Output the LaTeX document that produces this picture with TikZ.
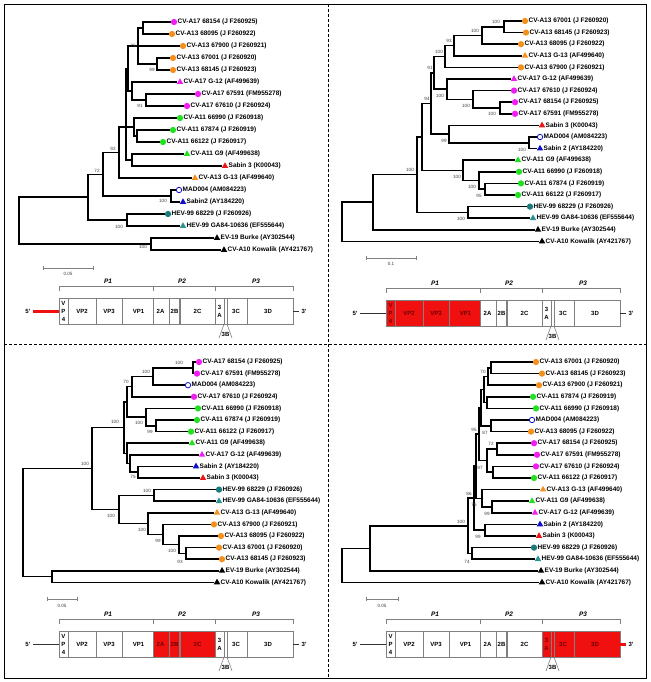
\documentclass[tikz,border=0pt]{standalone}
\usepackage{fontspec}
\setmainfont{Liberation Sans}
\usetikzlibrary{shapes.geometric}
\definecolor{cmag}{HTML}{F01EF0}
\definecolor{corg}{HTML}{F3901E}
\definecolor{cgrn}{HTML}{22E022}
\definecolor{cblu}{HTML}{1010C8}
\definecolor{cred}{HTML}{E81818}
\definecolor{cteal}{HTML}{1A7C7C}
\definecolor{cteal2}{HTML}{2A9494}
\definecolor{gline}{HTML}{808080}
\definecolor{mapred}{HTML}{F01010}
\definecolor{hltx}{HTML}{6E0000}
\newcommand\lf[5]{\node[#4] (#1m) at (#2,#3) {};\coordinate (#1) at ({#2-3.5},#3);\node[lab] (#1t) at ({#2+3.5},#3) {#5};}
\newcommand\kids[2]{\foreach \c in {#2}{\draw[brl] (#1) |- (\c);}}
\newcommand\bsl[4]{\node[bs] (#1) at (#2,#3) {#4};}
\newcommand\gmap[9]{%
\begin{scope}[shift={(#2,#3)}]
 \fill[#4] (59,298) rectangle (153,324);
 \fill[#6] (153,298) rectangle (215,324);
 \fill[#8] (215,298) rectangle (293,324);
 \draw[mapl] (59,298) rectangle (293,324);
 \foreach \x in {68,96,122,153,169,215,224,227,247} {\draw[mapl] (\x,298) -- (\x,324);}
 \draw[mapl,line width=1.3pt] (180,298) -- (180,324);
 \draw[mapl] (59,291) -- (59,286) -- (153,286) -- (153,291);
 \draw[mapl] (153,286) -- (215,286) -- (215,291);
 \draw[mapl] (215,286) -- (293,286) -- (293,291);
 \node[ptx] (#1p1) at (108,281) {P1};
 \node[ptx] (#1p2) at (182,281) {P2};
 \node[ptx] (#1p3) at (256,281) {P3};
 \node[mtx,text=#5,align=center] (#1c4) at (63.5,311) {V\\P\\4};
 \node[mtx,text=#5] (#1c2) at (82,311) {VP2};
 \node[mtx,text=#5] (#1c3) at (109,311) {VP3};
 \node[mtx,text=#5] (#1c1) at (138.5,311) {VP1};
 \node[mtx,text=#7] (#1ca) at (160.5,311) {2A};
 \node[mtx,text=#7] (#1cb) at (174.5,311) {2B};
 \node[mtx,text=#7] (#1cc) at (197.5,311) {2C};
 \node[mtx,text=#9,align=center] (#1da) at (219.5,311) {3\\A};
 \node[mtx,text=#9] (#1dc) at (236,311) {3C};
 \node[mtx,text=#9] (#1dd) at (268,311) {3D};
 \draw[mapl] (224,324) -- (219,338);
 \draw[mapl] (227,324) -- (232,338);
 \node[mtx] (#1db) at (225.5,334) {3B};
 \node[mtx] (#1f) at (28,311) {5'};
 \node[mtx] (#1t) at (304,311) {3'};
 \draw[u5] (33,311) -- (59,311);
 \draw[u3] (293,311) -- (299,311);
\end{scope}}
\begin{document}
\begin{tikzpicture}[x=1pt,y=-1pt,
  brl/.style={line width=1.5pt, line cap=rect, black},
  lab/.style={font=\fontsize{6.5}{7}\selectfont\bfseries, inner sep=0, anchor=west},
  bs/.style={font=\fontsize{4.6}{5}\selectfont, text=black!75, inner sep=0},
  mc/.style={circle, fill=#1, inner sep=0, minimum size=6.3pt},
  mt/.style={regular polygon, regular polygon sides=3, fill=#1, inner sep=0, minimum size=7.5pt},
  mo/.style={circle, draw=cblu, line width=0.8pt, inner sep=0, minimum size=5.4pt},
  mapl/.style={draw=gline, line width=0.6pt},
  mtx/.style={font=\fontsize{6}{8}\selectfont\bfseries, inner sep=0},
  ptx/.style={font=\fontsize{6.5}{8}\selectfont\bfseries\itshape, inner sep=0},
  sb/.style={draw=gline, line width=0.7pt},
  u5/.style={draw=black!80, line width=0.6pt},
  u3/.style={draw=black!80, line width=0.6pt}]
\fill[white] (0,0) rectangle (650,682);
\draw[line width=0.8pt] (4,4) rectangle (646,678);
\draw[line width=0.8pt, dash pattern=on 3pt off 2pt] (328,4) -- (328,678);
\draw[line width=0.8pt, dash pattern=on 3pt off 2pt] (4,344) -- (646,344);

% ---------------- tree 1 ----------------
\lf{a1}{174}{22}{mc=cmag}{CV-A17 68154 (J F260925)}
\lf{a2}{172}{34}{mc=corg}{CV-A13 68095 (J F260922)}
\lf{a3}{183}{46}{mc=corg}{CV-A13 67900 (J F260921)}
\lf{a4}{173}{58}{mc=corg}{CV-A13 67001 (J F260920)}
\lf{a5}{173}{70}{mc=corg}{CV-A13 68145 (J F260923)}
\lf{a6}{180}{82}{mt=cmag}{CV-A17 G-12 (AF499639)}
\lf{a7}{198}{94}{mc=cmag}{CV-A17 67591 (FM955278)}
\lf{a8}{187}{106}{mc=cmag}{CV-A17 67610 (J F260924)}
\lf{a9}{180}{118}{mc=cgrn}{CV-A11 66990 (J F260918)}
\lf{a10}{173}{130}{mc=cgrn}{CV-A11 67874 (J F260919)}
\lf{a11}{163}{142}{mc=cgrn}{CV-A11 66122 (J F260917)}
\lf{a12}{187}{154}{mt=cgrn}{CV-A11 G9 (AF499638)}
\lf{a13}{225}{166}{mt=cred}{Sabin 3 (K00043)}
\lf{a14}{195}{178}{mt=corg}{CV-A13 G-13 (AF499640)}
\lf{a15}{179}{190}{mo}{MAD004 (AM084223)}
\lf{a16}{183}{202}{mt=cblu}{Sabin2 (AY184220)}
\lf{a17}{168}{214}{mc=cteal}{HEV-99 68229 (J F260926)}
\lf{a18}{183}{226}{mt=cteal2}{HEV-99 GA84-10636 (EF555644)}
\lf{a19}{217}{238}{mt=black}{EV-19 Burke (AY302544)}
\lf{a20}{224}{250}{mt=black}{CV-A10 Kowalik (AY421767)}
\coordinate (aJ) at (143,28);
\coordinate (aK) at (157,64);
\coordinate (aI) at (138,46);
\coordinate (aS) at (146,100);
\coordinate (aM) at (132,91);
\coordinate (aN) at (128,68.5);
\coordinate (aT) at (137,136);
\coordinate (aQ) at (134,127);
\coordinate (aP) at (132,160);
\coordinate (aH) at (126,127);
\coordinate (aF) at (119,152.5);
\coordinate (aG) at (171,196);
\coordinate (aD) at (103,174.25);
\coordinate (aE) at (127,220);
\coordinate (aA) at (88,197.1);
\coordinate (aB) at (151,244);
\coordinate (aR) at (19,220.55);
\kids{aJ}{a1,a2}
\kids{aK}{a4,a5}
\kids{aI}{aJ,a3,aK}
\kids{aS}{a7,a8}
\kids{aM}{a6,aS}
\kids{aN}{aI,aM}
\kids{aT}{a10,a11}
\kids{aQ}{a9,aT}
\kids{aP}{a12,a13}
\kids{aH}{aN,aQ,aP}
\kids{aF}{aH,a14}
\kids{aG}{a15,a16}
\kids{aD}{aF,aG}
\kids{aE}{a17,a18}
\kids{aA}{aD,aE}
\kids{aB}{a19,a20}
\kids{aR}{aA,aB}
\bsl{ab1}{133}{46}{75}
\bsl{ab2}{152}{70}{99}
\bsl{ab3}{140}{106}{91}
\bsl{ab4}{113}{149}{92}
\bsl{ab5}{97}{171}{72}
\bsl{ab6}{163}{201}{100}
\bsl{ab7}{119}{227}{100}
\bsl{ab8}{143}{247}{100}
\coordinate (as1) at (43,268); \coordinate (as2) at (93,268);
\draw[sb] (as1) -- (as2) (43,266) -- (43,270) (93,266) -- (93,270);
\node[bs] (asl) at (68,274) {0.05};

% ---------------- tree 2 ----------------
\lf{b1}{525}{21}{mc=corg}{CV-A13 67001 (J F260920)}
\lf{b2}{526}{32.6}{mc=corg}{CV-A13 68145 (J F260923)}
\lf{b3}{521}{44.2}{mc=corg}{CV-A13 68095 (J F260922)}
\lf{b4}{525}{55.8}{mt=corg}{CV-A13 G-13 (AF499640)}
\lf{b5}{521}{67.4}{mc=corg}{CV-A13 67900 (J F260921)}
\lf{b6}{514}{79}{mt=cmag}{CV-A17 G-12 (AF499639)}
\lf{b7}{514}{90.6}{mc=cmag}{CV-A17 67610 (J F260924)}
\lf{b8}{515}{102.2}{mc=cmag}{CV-A17 68154 (J F260925)}
\lf{b9}{515}{113.8}{mc=cmag}{CV-A17 67591 (FM955278)}
\lf{b10}{542}{125.4}{mt=cred}{Sabin 3 (K00043)}
\lf{b11}{540}{137}{mo}{MAD004 (AM084223)}
\lf{b12}{540}{148.6}{mt=cblu}{Sabin 2 (AY184220)}
\lf{b13}{518}{160.2}{mt=cgrn}{CV-A11 G9 (AF499638)}
\lf{b14}{519}{171.8}{mc=cgrn}{CV-A11 66990 (J F260918)}
\lf{b15}{521}{183.4}{mc=cgrn}{CV-A11 67874 (J F260919)}
\lf{b16}{518}{195}{mc=cgrn}{CV-A11 66122 (J F260917)}
\lf{b17}{530}{206.6}{mc=cteal}{HEV-99 68229 (J F260926)}
\lf{b18}{533}{218.2}{mt=cteal2}{HEV-99 GA84-10636 (EF555644)}
\lf{b19}{538}{229.8}{mt=black}{EV-19 Burke (AY302544)}
\lf{b20}{542}{241.4}{mt=black}{CV-A10 Kowalik (AY421767)}
\coordinate (bn1) at (504,26.8);
\coordinate (bn2) at (482,35.5);
\coordinate (bn3) at (454,45.65);
\coordinate (bn4) at (445,56.5);
\coordinate (bn5) at (500,108);
\coordinate (bn6) at (473,99.3);
\coordinate (bn7) at (447,89.15);
\coordinate (bn8) at (434,72.8);
\coordinate (bn9) at (529,142.8);
\coordinate (bn10) at (449,134.1);
\coordinate (bn11) at (431,103.45);
\coordinate (bn14) at (485,189.2);
\coordinate (bn13) at (479,180.5);
\coordinate (bn12) at (463,170.35);
\coordinate (bD) at (422,136.9);
\coordinate (bn15) at (468,212.4);
\coordinate (bC) at (417,174.65);
\coordinate (bB) at (373,202.2);
\coordinate (bR) at (342,221.8);
\kids{bn1}{b1,b2}
\kids{bn2}{bn1,b3}
\kids{bn3}{bn2,b4}
\kids{bn4}{bn3,b5}
\kids{bn5}{b8,b9}
\kids{bn6}{b7,bn5}
\kids{bn7}{b6,bn6}
\kids{bn8}{bn4,bn7}
\kids{bn9}{b11,b12}
\kids{bn10}{b10,bn9}
\kids{bn11}{bn8,bn10}
\kids{bn14}{b15,b16}
\kids{bn13}{b14,bn14}
\kids{bn12}{b13,bn13}
\kids{bD}{bn11,bn12}
\kids{bn15}{b17,b18}
\kids{bC}{bD,bn15}
\kids{bB}{bC,b19}
\kids{bR}{bB,b20}
\bsl{bb1}{496}{22}{100}
\bsl{bb2}{475}{31}{100}
\bsl{bb3}{449}{41}{93}
\bsl{bb4}{439}{52}{100}
\bsl{bb5}{430}{68}{91}
\bsl{bb6}{427}{99}{94}
\bsl{bb7}{440}{96}{100}
\bsl{bb8}{466}{106}{100}
\bsl{bb9}{492}{114}{100}
\bsl{bb10}{444}{141}{99}
\bsl{bb11}{522}{150}{100}
\bsl{bb12}{410}{170}{100}
\bsl{bb13}{457}{177}{100}
\bsl{bb14}{472}{187}{100}
\bsl{bb15}{479}{196}{95}
\bsl{bb16}{461}{219}{100}
\coordinate (bs1) at (366,258); \coordinate (bs2) at (416,258);
\draw[sb] (bs1) -- (bs2) (366,256) -- (366,260) (416,256) -- (416,260);
\node[bs] (bsl) at (391,264) {0.1};

% ---------------- tree 3 ----------------
\lf{c1}{199}{362}{mc=cmag}{CV-A17 68154 (J F260925)}
\lf{c2}{197}{373.6}{mc=cmag}{CV-A17 67591 (FM955278)}
\lf{c3}{188}{385.2}{mo}{MAD004 (AM084223)}
\lf{c4}{194}{396.8}{mc=cmag}{CV-A17 67610 (J F260924)}
\lf{c5}{198}{408.4}{mc=cgrn}{CV-A11 66990 (J F260918)}
\lf{c6}{197}{420}{mc=cgrn}{CV-A11 67874 (J F260919)}
\lf{c7}{191}{431.6}{mc=cgrn}{CV-A11 66122 (J F260917)}
\lf{c8}{192}{443.2}{mt=cgrn}{CV-A11 G9 (AF499638)}
\lf{c9}{202}{454.8}{mt=cmag}{CV-A17 G-12 (AF499639)}
\lf{c10}{196}{466.4}{mt=cblu}{Sabin 2 (AY184220)}
\lf{c11}{203}{478}{mt=cred}{Sabin 3 (K00043)}
\lf{c12}{219}{489.6}{mc=cteal}{HEV-99 68229 (J F260926)}
\lf{c13}{219}{501.2}{mt=cteal2}{HEV-99 GA84-10636 (EF555644)}
\lf{c14}{217}{512.8}{mt=corg}{CV-A13 G-13 (AF499640)}
\lf{c15}{214}{524.4}{mc=corg}{CV-A13 67900 (J F260921)}
\lf{c16}{221}{536}{mc=corg}{CV-A13 68095 (J F260922)}
\lf{c17}{219}{547.6}{mc=corg}{CV-A13 67001 (J F260920)}
\lf{c18}{222}{559.2}{mc=corg}{CV-A13 68145 (J F260923)}
\lf{c19}{222}{570.8}{mt=black}{EV-19 Burke (AY302544)}
\lf{c20}{217}{582.4}{mt=black}{CV-A10 Kowalik (AY421767)}
\coordinate (cL) at (193,367.8);
\coordinate (cK) at (153,376.5);
\coordinate (cJ) at (132,386.65);
\coordinate (cN) at (156,425.8);
\coordinate (cM) at (146,417.1);
\coordinate (cO) at (127,401.9);
\coordinate (cRR) at (138,472.2);
\coordinate (cQ) at (130,463.5);
\coordinate (cP) at (127,453.35);
\coordinate (cC) at (124,427.6);
\coordinate (cHE) at (154,495.4);
\coordinate (cH) at (186,553.4);
\coordinate (cG) at (179,544.7);
\coordinate (cF) at (163,534.55);
\coordinate (cE) at (148,523.7);
\coordinate (cD) at (119,509.55);
\coordinate (cA) at (92,468.6);
\coordinate (cB) at (52,576.6);
\coordinate (cR) at (23,522.6);
\kids{cL}{c1,c2}
\kids{cK}{cL,c3}
\kids{cJ}{cK,c4}
\kids{cN}{c6,c7}
\kids{cM}{c5,cN}
\kids{cO}{cJ,cM}
\kids{cRR}{c10,c11}
\kids{cQ}{c9,cRR}
\kids{cP}{c8,cQ}
\kids{cC}{cO,cP}
\kids{cHE}{c12,c13}
\kids{cH}{c17,c18}
\kids{cG}{c16,cH}
\kids{cF}{c15,cG}
\kids{cE}{c14,cF}
\kids{cD}{cHE,cE}
\kids{cA}{cC,cD}
\kids{cB}{c19,c20}
\kids{cR}{cA,cB}
\bsl{cb1}{179}{363}{100}
\bsl{cb2}{146}{372}{100}
\bsl{cb3}{126}{382}{70}
\bsl{cb4}{115}{422}{100}
\bsl{cb5}{139}{423}{100}
\bsl{cb6}{150}{432}{99}
\bsl{cb7}{85}{464}{100}
\bsl{cb8}{133}{477}{75}
\bsl{cb9}{147}{491}{100}
\bsl{cb10}{111}{516}{100}
\bsl{cb11}{142}{530}{100}
\bsl{cb12}{158}{541}{99}
\bsl{cb13}{172}{551}{100}
\bsl{cb14}{180}{562}{93}
\coordinate (cs1) at (47,599); \coordinate (cs2) at (77,599);
\draw[sb] (cs1) -- (cs2) (47,597) -- (47,601) (77,597) -- (77,601);
\node[bs] (csl) at (62,606) {0.05};

% ---------------- tree 4 ----------------
\lf{d1}{536}{362}{mc=corg}{CV-A13 67001 (J F260920)}
\lf{d2}{542}{373.6}{mc=corg}{CV-A13 68145 (J F260923)}
\lf{d3}{539}{385.2}{mc=corg}{CV-A13 67900 (J F260921)}
\lf{d4}{533}{396.8}{mc=cgrn}{CV-A11 67874 (J F260919)}
\lf{d5}{536}{408.4}{mc=cgrn}{CV-A11 66990 (J F260918)}
\lf{d6}{532}{420}{mo}{MAD004 (AM084223)}
\lf{d7}{531}{431.6}{mc=corg}{CV-A13 68095 (J F260922)}
\lf{d8}{534}{443.2}{mc=cmag}{CV-A17 68154 (J F260925)}
\lf{d9}{537}{454.8}{mc=cmag}{CV-A17 67591 (FM955278)}
\lf{d10}{536}{466.4}{mc=cmag}{CV-A17 67610 (J F260924)}
\lf{d11}{534}{478}{mc=cgrn}{CV-A11 66122 (J F260917)}
\lf{d12}{543}{489.6}{mt=corg}{CV-A13 G-13 (AF499640)}
\lf{d13}{532}{501.2}{mt=cgrn}{CV-A11 G9 (AF499638)}
\lf{d14}{535}{512.8}{mt=cmag}{CV-A17 G-12 (AF499639)}
\lf{d15}{540}{524.4}{mt=cblu}{Sabin 2 (AY184220)}
\lf{d16}{539}{536}{mt=cred}{Sabin 3 (K00043)}
\lf{d17}{534}{547.6}{mc=cteal}{HEV-99 68229 (J F260926)}
\lf{d18}{538}{559.2}{mt=cteal2}{HEV-99 GA84-10636 (EF555644)}
\lf{d19}{541}{570.8}{mt=black}{EV-19 Burke (AY302544)}
\lf{d20}{542}{582.4}{mt=black}{CV-A10 Kowalik (AY421767)}
\coordinate (dW) at (491,367.8);
\coordinate (dX) at (488,376.5);
\coordinate (dY) at (487,402.6);
\coordinate (dAA) at (484,389.55);
\coordinate (dBB) at (491,425.8);
\coordinate (dCC) at (481,407.7);
\coordinate (dDD) at (497,449);
\coordinate (dEE) at (493,472.2);
\coordinate (dFF) at (487,460.6);
\coordinate (dGG) at (479,434.15);
\coordinate (dS) at (492,507);
\coordinate (dT) at (482,498.3);
\coordinate (dHH) at (476,466.2);
\coordinate (dU) at (485,530.2);
\coordinate (dII) at (474,498.2);
\coordinate (dHE) at (472,553.4);
\coordinate (dB) at (468,525.8);
\coordinate (dA) at (370,548.3);
\coordinate (dR) at (342,565.35);
\kids{dW}{d1,d2}
\kids{dX}{dW,d3}
\kids{dY}{d4,d5}
\kids{dAA}{dX,dY}
\kids{dBB}{d6,d7}
\kids{dCC}{dAA,dBB}
\kids{dDD}{d8,d9}
\kids{dEE}{d10,d11}
\kids{dFF}{dDD,dEE}
\kids{dGG}{dCC,dFF}
\kids{dS}{d13,d14}
\kids{dT}{d12,dS}
\kids{dHH}{dGG,dT}
\kids{dU}{d15,d16}
\kids{dII}{dHH,dU}
\kids{dHE}{d17,d18}
\kids{dB}{dII,dHE}
\kids{dA}{dB,d19}
\kids{dR}{dA,d20}
\bsl{db1}{483}{372}{70}
\bsl{db2}{474}{430}{95}
\bsl{db3}{485}{433}{87}
\bsl{db4}{491}{444}{72}
\bsl{db5}{480}{468}{97}
\bsl{db6}{469}{494}{86}
\bsl{db7}{474}{505}{76}
\bsl{db8}{487}{514}{99}
\bsl{db9}{461}{522}{100}
\bsl{db10}{478}{537}{99}
\bsl{db11}{467}{562}{74}
\coordinate (ds1) at (366,599); \coordinate (ds2) at (398,599);
\draw[sb] (ds1) -- (ds2) (366,597) -- (366,601) (398,597) -- (398,601);
\node[bs] (dsl) at (382,606) {0.05};

% ---------------- genome maps ----------------
\tikzset{u5/.style={draw=mapred, line width=3pt}, u3/.style={draw=black!80, line width=0.6pt}}
\gmap{g1}{0}{0}{white}{black}{white}{black}{white}{black}
\tikzset{u5/.style={draw=black!80, line width=0.6pt}}
\gmap{g2}{327}{2}{mapred}{hltx}{white}{black}{white}{black}
\gmap{g3}{0}{333}{white}{black}{mapred}{hltx}{white}{black}
\tikzset{u3/.style={draw=mapred, line width=3pt}}
\gmap{g4}{327}{333}{white}{black}{white}{black}{mapred}{hltx}
\end{tikzpicture}
\end{document}
